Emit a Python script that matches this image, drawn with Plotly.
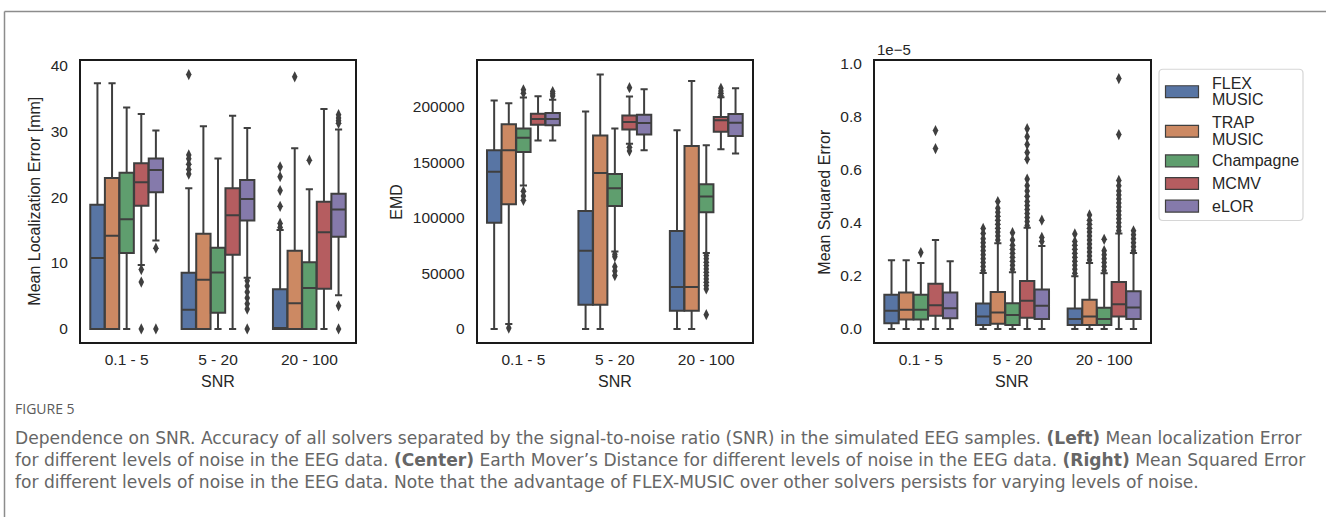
import plotly.graph_objects as go

W, H = 1326, 517

# ---------------- data ----------------
CATEGORIES = ["0.1 - 5", "5 - 20", "20 - 100"]
SOLVERS = ["FLEX-MUSIC", "TRAP-MUSIC", "Champagne", "MCMV", "eLOR"]
LEGEND_LINES = [["FLEX", "MUSIC"], ["TRAP", "MUSIC"], ["Champagne"], ["MCMV"], ["eLOR"]]
COLORS = ["#5875A4", "#CC8963", "#5F9E6E", "#B55D60", "#857AAB"]

# Mean localization error [mm]; rows = solver, columns = SNR category
MLE_LOWER = [[0, 0, 0], [0, 0, 0], [0, 0, 0], [9.7, 0, 0], [13.4, 7.75, 5.1]]
MLE_Q1 = [[0, 0, 0], [0, 0, 0], [11.5, 2.45, 0], [18.7, 11.25, 6.1], [20.75, 16.45, 14.0]]
MLE_MED = [[10.75, 2.9, 0], [14.15, 7.45, 3.9], [16.65, 8.55, 6.2], [22.25, 17.25, 14.65], [24.1, 19.7, 18.1]]
MLE_Q3 = [[18.85, 8.5, 6.0], [22.9, 14.45, 11.85], [23.7, 12.3, 10.1], [25.15, 21.35, 19.3], [25.85, 22.6, 20.5]]
MLE_UPPER = [[37.26, 21.35, 15.0], [37.26, 30.75, 27.4], [33.6, 25.85, 21.2], [32.6, 32.35, 33.35], [30.1, 30.5, 30.25]]
MLE_OUT = [
    [[], [23.5, 24.2, 25.0, 25.8, 26.4, 38.6], [15.4, 16.0, 18.6, 21.0, 23.1, 24.6]],
    [[], [], [38.25]],
    [[], [], [25.6]],
    [[9.0, 7.1, 0.0], [], []],
    [[12.25, 0.0], [7.3, 6.5, 5.6, 4.7, 3.8, 3.0, 0.0], [31.2, 31.6, 32.0, 32.5, 3.5, 0.0]],
]

# Earth mover's distance
EMD_LOWER = [[0, 0, 0], [4400, 0, 0], [128900, 69700, 68200], [169500, 166600, 161500], [169500, 160600, 157700]]
EMD_Q1 = [[95400, 21700, 16300], [112000, 21700, 16300], [159100, 110600, 104900], [183700, 179300, 177300], [183100, 174900, 173400]]
EMD_MED = [[141400, 70200, 37700], [160600, 140200, 37700], [171900, 126600, 119100], [188800, 186100, 187600], [188800, 185200, 185300]]
EMD_Q3 = [[160600, 106100, 88000], [184000, 174000, 164500], [180200, 139300, 130100], [193500, 191800, 190600], [194100, 192600, 193300]]
EMD_UPPER = [[205400, 195600, 178700], [203000, 228800, 222900], [208000, 180200, 165100], [209200, 208900, 208400], [206000, 215500, 216400]]
EMD_OUT = [
    [[], [], []],
    [[800], [], []],
    [[212000, 215000, 123900, 119500, 115600],
     [67000, 65000, 56000, 52000, 48000],
     [66000, 63000, 60000, 57000, 54000, 51000, 48000, 45000, 42000, 39000, 36000, 12800]],
    [[], [216900, 163300, 160000], [210000, 212000, 214000, 216400]],
    [[209500, 211500, 213500], [], []],
]

# Mean squared error, in units of 1e-5
MSE_LOWER = [[0, 0, 0], [0, 0, 0], [0, 0, 0], [0, 0, 0], [0, 0, 0]]
MSE_Q1 = [[0.021, 0.015, 0.015], [0.035, 0.019, 0.015], [0.035, 0.015, 0.015], [0.050, 0.042, 0.047], [0.040, 0.037, 0.037]]
MSE_MED = [[0.0685, 0.047, 0.037], [0.072, 0.062, 0.047], [0.072, 0.052, 0.037], [0.0895, 0.106, 0.093], [0.078, 0.087, 0.081]]
MSE_Q3 = [[0.129, 0.096, 0.077], [0.137, 0.139, 0.110], [0.129, 0.097, 0.080], [0.170, 0.181, 0.177], [0.137, 0.149, 0.142]]
MSE_UPPER = [[0.2586, 0.211, 0.199], [0.2586, 0.323, 0.249], [0.249, 0.214, 0.21], [0.335, 0.381, 0.36], [0.255, 0.313, 0.286]]
MSE_OUT = [
    [[], [0.22, 0.235, 0.25, 0.265, 0.28, 0.295, 0.31, 0.325, 0.34, 0.36, 0.379],
     [0.21, 0.225, 0.24, 0.255, 0.27, 0.285, 0.30, 0.315, 0.33, 0.358]],
    [[], [0.335, 0.35, 0.365, 0.38, 0.395, 0.41, 0.425, 0.44, 0.455, 0.48],
     [0.26, 0.275, 0.29, 0.305, 0.32, 0.335, 0.35, 0.365, 0.38, 0.395, 0.41, 0.43]],
    [[0.288], [0.225, 0.24, 0.255, 0.27, 0.285, 0.30, 0.315, 0.335, 0.363],
     [0.22, 0.235, 0.25, 0.265, 0.28, 0.295, 0.338]],
    [[0.680, 0.748],
     [0.39, 0.405, 0.42, 0.435, 0.45, 0.465, 0.48, 0.50, 0.52, 0.54, 0.565, 0.64, 0.665, 0.695, 0.725, 0.755],
     [0.37, 0.385, 0.40, 0.415, 0.43, 0.445, 0.46, 0.475, 0.49, 0.505, 0.52, 0.54, 0.56, 0.733, 0.944]],
    [[], [0.33, 0.345, 0.41], [0.295, 0.31, 0.325, 0.34, 0.355, 0.37]],
]

Y_TITLES = ["Mean Localization Error [mm]", "EMD", "Mean Squared Error"]
X_TITLE = "SNR"
Y_TICKS = [[0, 10, 20, 30, 40], [0, 50000, 100000, 150000, 200000], [0.0, 0.2, 0.4, 0.6, 0.8, 1.0]]
Y_TICKTEXT = [["0", "10", "20", "30", "40"],
              ["0", "50000", "100000", "150000", "200000"],
              ["0.0", "0.2", "0.4", "0.6", "0.8", "1.0"]]
Y_RANGES = [[-2.0, 40.6], [-11800, 240600], [-0.0496, 1.009]]

CAPTION_HEAD = "FIGURE 5"
CAPTION_LINES = [
    "Dependence on SNR. Accuracy of all solvers separated by the signal-to-noise ratio (SNR) in the simulated EEG samples. <b>(Left)</b> Mean localization Error",
    "for different levels of noise in the EEG data. <b>(Center)</b> Earth Mover\u2019s Distance for different levels of noise in the EEG data. <b>(Right)</b> Mean Squared Error",
    "for different levels of noise in the EEG data. Note that the advantage of FLEX-MUSIC over other solvers persists for varying levels of noise.",
]

# ---------------- layout helpers ----------------
def fx(px):
    return px / W

def fy(py):
    return 1 - py / H

PANELS_X = [(81, 355), (477.7, 752), (875, 1150)]
PANEL_Y = (56, 340)
BOX_W = 0.16
OFFSETS = [(i - 2) * BOX_W for i in range(5)]
LINE_GRAY = "#3f3f3f"
TEXT = "#262626"
FONT = "Liberation Sans, Arial, sans-serif"

panels = [
    (MLE_LOWER, MLE_Q1, MLE_MED, MLE_Q3, MLE_UPPER, MLE_OUT),
    (EMD_LOWER, EMD_Q1, EMD_MED, EMD_Q3, EMD_UPPER, EMD_OUT),
    (MSE_LOWER, MSE_Q1, MSE_MED, MSE_Q3, MSE_UPPER, MSE_OUT),
]

fig = go.Figure()

for p, (lo, q1, med, q3, up, outs) in enumerate(panels):
    xa = "x" if p == 0 else f"x{p+1}"
    ya = "y" if p == 0 else f"y{p+1}"
    for s in range(5):
        pos = [c + OFFSETS[s] for c in range(len(CATEGORIES))]
        fig.add_trace(go.Box(
            x=pos, q1=q1[s], median=med[s], q3=q3[s],
            lowerfence=lo[s], upperfence=up[s],
            width=BOX_W * 0.98, whiskerwidth=0.5,
            fillcolor=COLORS[s], line=dict(color=LINE_GRAY, width=2),
            boxpoints=False, name=SOLVERS[s], showlegend=False,
            xaxis=xa, yaxis=ya,
        ))
        ox, oy = [], []
        for c in range(len(CATEGORIES)):
            for v in outs[s][c]:
                ox.append(c + OFFSETS[s])
                oy.append(v)
        if ox:
            fig.add_trace(go.Scatter(
                x=ox, y=oy, mode="markers",
                marker=dict(symbol="diamond-tall", size=8, color=LINE_GRAY, line=dict(width=0)),
                showlegend=False, xaxis=xa, yaxis=ya, hoverinfo="y",
            ))

axis_common = dict(showline=True, mirror=True, linecolor="#1a1a1a", linewidth=2,
                   showgrid=False, zeroline=False, ticks="",
                   tickfont=dict(family=FONT, size=15.5, color=TEXT))

layout = dict(
    width=W, height=H, margin=dict(l=0, r=0, t=0, b=0),
    paper_bgcolor="white", plot_bgcolor="white",
    boxmode="overlay", showlegend=False,
    font=dict(family=FONT, color=TEXT),
)
for p in range(3):
    xk = "xaxis" if p == 0 else f"xaxis{p+1}"
    yk = "yaxis" if p == 0 else f"yaxis{p+1}"
    x0, x1 = PANELS_X[p]
    layout[xk] = dict(axis_common, domain=[fx(x0), fx(x1)], range=[-0.5, 2.5],
                      tickvals=list(range(len(CATEGORIES))), ticktext=CATEGORIES,
                      anchor="y" if p == 0 else f"y{p+1}", ticklabelstandoff=2)
    layout[yk] = dict(axis_common, domain=[fy(PANEL_Y[1]), fy(PANEL_Y[0])], range=Y_RANGES[p],
                      tickvals=Y_TICKS[p], ticktext=Y_TICKTEXT[p],
                      anchor="x" if p == 0 else f"x{p+1}", ticklabelstandoff=8)
fig.update_layout(**layout)

ann = []
shapes = []
ytitle_x = [35, 397, 825]
for p in range(3):
    x0, x1 = PANELS_X[p]
    ann.append(dict(text=Y_TITLES[p], x=fx(ytitle_x[p]), y=fy(198), xref="paper", yref="paper",
                    textangle=-90, showarrow=False, xanchor="center", yanchor="middle",
                    font=dict(family=FONT, size=16, color=TEXT)))
    ann.append(dict(text=X_TITLE, x=fx((x0 + x1) / 2), y=fy(380), xref="paper", yref="paper",
                    showarrow=False, xanchor="center", yanchor="middle",
                    font=dict(family=FONT, size=16, color=TEXT)))
# offset text for the MSE axis
ann.append(dict(text="1e\u22125", x=fx(PANELS_X[2][0]), y=fy(55), xref="paper", yref="paper",
                showarrow=False, xanchor="left", yanchor="bottom",
                font=dict(family=FONT, size=15, color=TEXT)))

# legend (drawn manually to mimic seaborn patches)
r = 4
lx0, lx1, ly0, ly1 = 1159, 1303, 64, 217
path = (f"M {fx(lx0+r)} {fy(ly0)} L {fx(lx1-r)} {fy(ly0)} Q {fx(lx1)} {fy(ly0)} {fx(lx1)} {fy(ly0+r)} "
        f"L {fx(lx1)} {fy(ly1-r)} Q {fx(lx1)} {fy(ly1)} {fx(lx1-r)} {fy(ly1)} "
        f"L {fx(lx0+r)} {fy(ly1)} Q {fx(lx0)} {fy(ly1)} {fx(lx0)} {fy(ly1-r)} "
        f"L {fx(lx0)} {fy(ly0+r)} Q {fx(lx0)} {fy(ly0)} {fx(lx0+r)} {fy(ly0)} Z")
shapes.append(dict(type="path", path=path, xref="paper", yref="paper",
                   line=dict(color="#d6d6d6", width=1.2), fillcolor="white"))
patch_centers = [86.7, 126.7, 156.7, 179.6, 202.5]
line_h = 16.7
for s in range(5):
    cy = patch_centers[s]
    shapes.append(dict(type="rect", xref="paper", yref="paper",
                       x0=fx(1165.5), x1=fx(1198.5), y0=fy(cy + 6), y1=fy(cy - 6),
                       fillcolor=COLORS[s], line=dict(color=LINE_GRAY, width=1.2)))
    lines = LEGEND_LINES[s]
    n = len(lines)
    for k, t in enumerate(lines):
        yy = cy + (k - (n - 1) / 2) * line_h
        ann.append(dict(text=t, x=fx(1210), y=fy(yy), xref="paper", yref="paper",
                        showarrow=False, xanchor="left", yanchor="middle",
                        font=dict(family=FONT, size=16, color=TEXT)))

# figure frame (journal page border)
shapes.append(dict(type="line", xref="paper", yref="paper", x0=fx(4.5), x1=fx(W + 5),
                   y0=fy(5.5), y1=fy(5.5), line=dict(color="#8c8c8c", width=1.5)))
shapes.append(dict(type="line", xref="paper", yref="paper", x0=fx(4.5), x1=fx(4.5),
                   y0=fy(5.5), y1=fy(H + 5), line=dict(color="#8c8c8c", width=1.5)))

# caption
CAP_X = 13
ann.append(dict(text=CAPTION_HEAD, x=fx(CAP_X), y=fy(407), xref="paper", yref="paper",
                showarrow=False, xanchor="left", yanchor="middle",
                font=dict(family="Open Sans, sans-serif", size=14, color="#5a5a5a")))
ann.append(dict(text="<br>".join(CAPTION_LINES), x=fx(CAP_X), y=fy(459), xref="paper", yref="paper",
                showarrow=False, xanchor="left", yanchor="middle", align="left",
                font=dict(family="DejaVu Sans, sans-serif", size=17.1, color="#666666")))

fig.update_layout(annotations=ann, shapes=shapes)
fig.write_html("out.html")
